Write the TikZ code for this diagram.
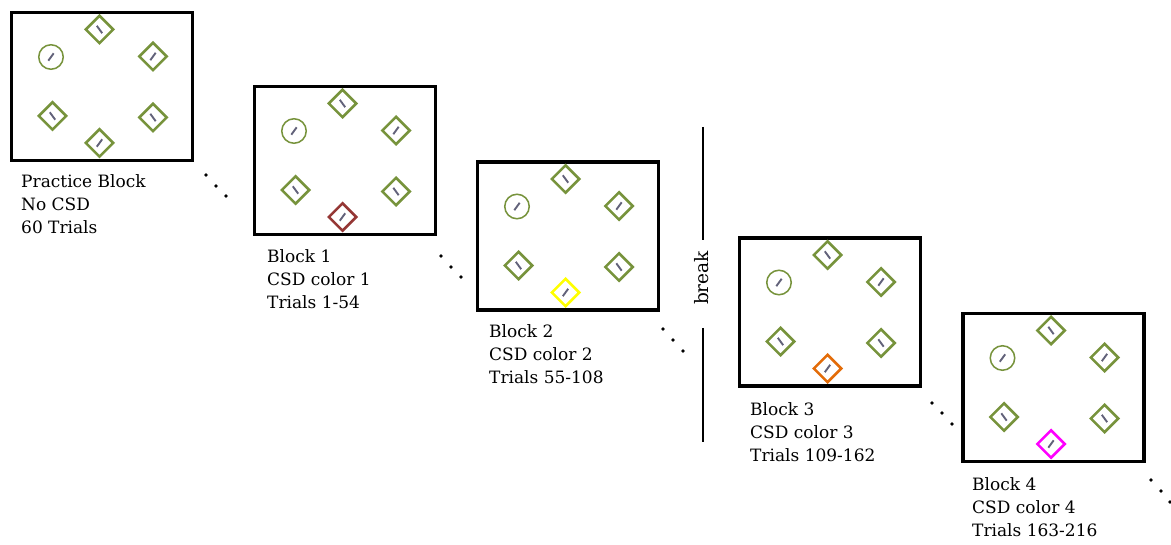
\documentclass[tikz,border=0pt]{standalone}
\usepackage{fontspec}
\setmainfont{DejaVu Serif}
\usetikzlibrary{shapes.geometric,calc}
\definecolor{stimgreen}{HTML}{77933C}
\definecolor{csdred}{HTML}{953735}
\definecolor{csdyellow}{HTML}{FFFF00}
\definecolor{csdorange}{HTML}{E36C09}
\definecolor{csdmagenta}{HTML}{FF00FF}
\definecolor{tickgray}{HTML}{62627A}
\tikzset{
  frame/.style={draw=black, line width=3.5pt, minimum width=181pt, minimum height=148pt, inner sep=0pt},
  ring/.style={circle, draw=stimgreen, line width=1.5pt, minimum size=24.5pt, inner sep=0pt},
  diam/.style={diamond, aspect=1, draw=#1, line width=2.5pt, minimum width=28.5pt, minimum height=28.5pt, inner sep=0pt},
  diam/.default=stimgreen,
  tick/.style={draw=tickgray, line width=1.9pt},
  lbl/.style={anchor=north west, inner sep=0pt, align=left, font=\fontsize{17}{23}\selectfont},
  dotmark/.style={fill=black},
  breakline/.style={draw=black, line width=1.3pt}
}
\newcommand\tickfwd[1]{\draw[tick] ($(#1)+(-2.7,3.7)$) -- ($(#1)+(2.7,-3.7)$);}
\newcommand\tickbwd[1]{\draw[tick] ($(#1)+(-2.7,-3.7)$) -- ($(#1)+(2.7,3.7)$);}
\newcommand\stimset[2]{%
  \node[ring] (#1-c) at ($(#1)+(-51,-29.5)$) {};
  \node[diam] (#1-t) at ($(#1)+(-2.5,-57)$) {};
  \node[diam] (#1-ru) at ($(#1)+(51,-30)$) {};
  \node[diam] (#1-ll) at ($(#1)+(-49.5,29.5)$) {};
  \node[diam] (#1-rl) at ($(#1)+(51,31)$) {};
  \node[diam=#2] (#1-b) at ($(#1)+(-2.5,56.5)$) {};
  \tickfwd{#1-c}\tickbwd{#1-t}\tickfwd{#1-ru}\tickbwd{#1-ll}\tickbwd{#1-rl}\tickfwd{#1-b}%
}
\begin{document}
\begin{tikzpicture}[x=1pt,y=-1pt]
\useasboundingbox (0,0) rectangle (1171,545);
% blocks
\node[frame] (b0) at (102,86.5) {};
\node[frame] (b1) at (345,160.5) {};
\node[frame] (b2) at (568,236) {};
\node[frame] (b3) at (830,312) {};
\node[frame] (b4) at (1053.5,387.5) {};
\stimset{b0}{stimgreen}
\stimset{b1}{csdred}
\stimset{b2}{csdyellow}
\stimset{b3}{csdorange}
\stimset{b4}{csdmagenta}
% labels
\node[lbl] (b0-txt) at (21,174.3) {Practice Block\\No CSD\\60 Trials};
\node[lbl] (b1-txt) at (267,249.3) {Block 1\\CSD color 1\\Trials 1-54};
\node[lbl] (b2-txt) at (489,324.3) {Block 2\\CSD color 2\\Trials 55-108};
\node[lbl] (b3-txt) at (750,402.3) {Block 3\\CSD color 3\\Trials 109-162};
\node[lbl] (b4-txt) at (972,477.3) {Block 4\\CSD color 4\\Trials 163-216};
% dots
\foreach \p in {(206,175),(216,186),(226,196),
                (441,256),(451,267),(461,277),
                (663,329),(673,340),(683,351),
                (932,403),(942,413),(952,424),
                (1151,480),(1161,491),(1170,502)}
  \fill[dotmark] \p circle (1.8pt);
% break
\node[rotate=90, inner sep=0pt, font=\fontsize{18.5}{22}\selectfont] (brk) at (702,278) {break};
\coordinate (brk-a1) at (703,127);
\coordinate (brk-a2) at (703,240);
\coordinate (brk-b1) at (703,328);
\coordinate (brk-b2) at (703,442);
\draw[breakline] (brk-a1) -- (brk-a2);
\draw[breakline] (brk-b1) -- (brk-b2);
\end{tikzpicture}
\end{document}
